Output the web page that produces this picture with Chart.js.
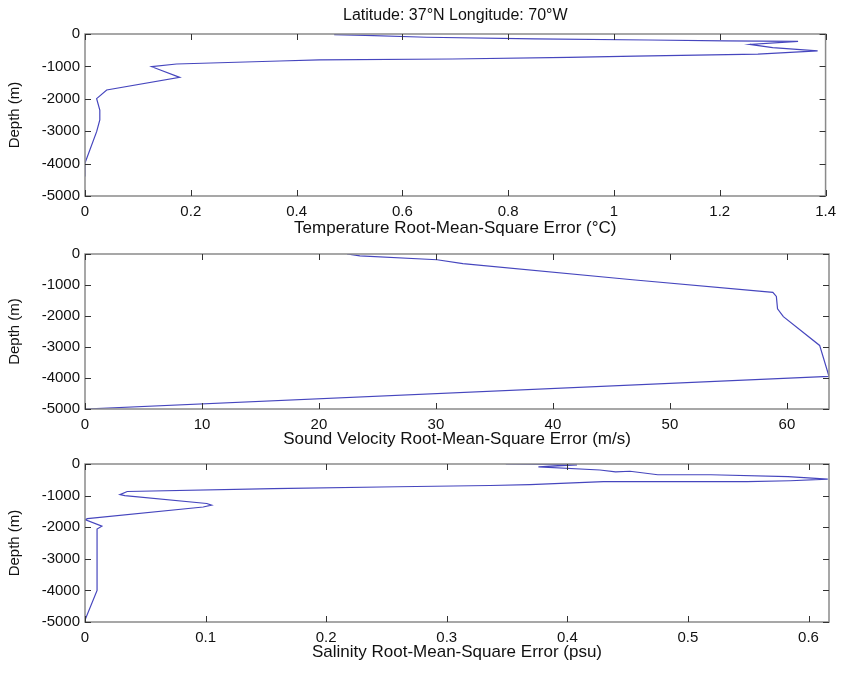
<!DOCTYPE html>
<html>
<head>
<meta charset="utf-8">
<script src="https://cdn.jsdelivr.net/npm/chart.js@4/dist/chart.umd.min.js"></script>
<style>
  body { margin: 0; background: #fff; }
  .panel { position: absolute; left: 0; }
</style>
</head>
<body>
<div class="panel" style="top:0px"><canvas id="tempChart" width="843" height="240"></canvas></div>
<div class="panel" style="top:240px"><canvas id="soundChart" width="843" height="210"></canvas></div>
<div class="panel" style="top:450px"><canvas id="salChart" width="843" height="223"></canvas></div>
<script>
// temperature RMS error (deg C) vs depth (m)
const tempRms = [0.471, 0.53, 0.646, 0.85, 1.065, 1.21, 1.348, 1.257, 1.30, 1.385, 1.272, 1.04, 0.914, 0.694, 0.443, 0.368, 0.173, 0.126, 0.179, 0.041, 0.022, 0.028, 0.028, 0.022, 0.0, 0.0];
const tempDepth = [-20, -40, -100, -150, -185, -210, -230, -320, -420, -520, -620, -680, -720, -772, -800, -833, -926, -1009, -1337, -1728, -1996, -2345, -2654, -3014, -3981, -4400];

// sound velocity RMS error (m/s) vs depth (m)
const soundRms = [22.4, 23.5, 30.1, 32.3, 46.8, 58.8, 59.1, 59.2, 59.7, 62.8, 63.6, 0];
const soundDepth = [0, -60, -186, -310, -830, -1240, -1370, -1770, -2020, -2950, -3950, -5000];

// salinity RMS error (psu) vs depth (m)
const salRms = [0.349, 0.408, 0.376, 0.427, 0.44, 0.452, 0.475, 0.519, 0.583, 0.616, 0.585, 0.549, 0.43, 0.369, 0.336, 0.259, 0.156, 0.035, 0.029, 0.033, 0.101, 0.105, 0.098, 0.002, 0.0, 0.014, 0.01, 0.01, 0.0];
const salDepth = [0, -30, -90, -190, -250, -230, -340, -340, -400, -480, -530, -560, -560, -650, -680, -720, -780, -870, -970, -1000, -1250, -1300, -1360, -1728, -1760, -1969, -2060, -4000, -4940];

const depthTicks = [0, -1000, -2000, -3000, -4000, -5000];
const tempTicks = [0, 0.2, 0.4, 0.6, 0.8, 1, 1.2, 1.4];
const soundTicks = [0, 10, 20, 30, 40, 50, 60];
const salTicks = [0, 0.1, 0.2, 0.3, 0.4, 0.5, 0.6];

const FONT = 'Liberation Sans, Arial, sans-serif';

// MATLAB-like box with inward ticks
const boxTicks = {
  id: 'boxTicks',
  afterDatasetsDraw(chart) {
    const { ctx, chartArea: a, scales: { x, y } } = chart;
    ctx.save();
    ctx.strokeStyle = '#8a8a8a';
    ctx.lineWidth = 1.5;
    ctx.strokeRect(a.left, a.top, a.right - a.left, a.bottom - a.top);
    ctx.strokeStyle = '#333';
    ctx.lineWidth = 1;
    ctx.beginPath();
    x.ticks.forEach(t => {
      const px = Math.round(x.getPixelForValue(t.value)) + 0.5;
      ctx.moveTo(px, a.bottom); ctx.lineTo(px, a.bottom - 6);
      ctx.moveTo(px, a.top); ctx.lineTo(px, a.top + 6);
    });
    y.ticks.forEach(t => {
      const py = Math.round(y.getPixelForValue(t.value)) + 0.5;
      ctx.moveTo(a.left, py); ctx.lineTo(a.left + 6, py);
      ctx.moveTo(a.right, py); ctx.lineTo(a.right - 6, py);
    });
    ctx.stroke();
    ctx.restore();
  }
};

function makeChart(id, xs, ys, xMax, xTicks, xTitle, opts) {
  const points = xs.map((v, i) => ({ x: v, y: ys[i] }));
  return new Chart(document.getElementById(id), {
    type: 'scatter',
    data: {
      datasets: [{
        data: points,
        showLine: true,
        borderColor: 'rgb(70,70,190)',
        borderWidth: 1.2,
        pointRadius: 0,
        tension: 0,
        fill: false
      }]
    },
    options: {
      responsive: false,
      animation: false,
      devicePixelRatio: 1,
      layout: { padding: { top: opts.padTop, bottom: opts.padBottom, left: 0, right: 14 } },
      plugins: {
        legend: { display: false },
        tooltip: { enabled: false },
        title: {
          display: !!opts.title,
          text: opts.title,
          fullSize: false,
          color: '#111',
          font: { family: FONT, size: 16, weight: 'normal' },
          padding: { top: 6, bottom: 8.8 }
        }
      },
      scales: {
        x: {
          type: 'linear',
          min: 0,
          max: xMax,
          afterBuildTicks: s => { s.ticks = xTicks.map(v => ({ value: v })); },
          afterFit: s => { s.height = opts.xHeight; },
          grid: { display: false, drawTicks: false },
          border: { display: false },
          ticks: { color: '#111', padding: 7, maxRotation: 0, font: { family: FONT, size: 15 }, callback: v => String(v) },
          title: { display: true, text: xTitle, color: '#111', font: { family: FONT, size: 17 }, padding: { top: 0, bottom: opts.titlePad } }
        },
        y: {
          type: 'linear',
          min: -5000,
          max: 0,
          afterBuildTicks: s => { s.ticks = depthTicks.map(v => ({ value: v })); },
          afterFit: s => { s.width = 85; },
          grid: { display: false, drawTicks: false },
          border: { display: false },
          ticks: { color: '#111', padding: 5, font: { family: FONT, size: 15 }, callback: v => String(v) },
          title: { display: true, text: 'Depth (m)', color: '#111', font: { family: FONT, size: 15 }, padding: { top: 6, bottom: 0 } }
        }
      }
    },
    plugins: [boxTicks]
  });
}

makeChart('tempChart', tempRms, tempDepth, 1.4, tempTicks,
  'Temperature Root-Mean-Square Error (°C)',
  { title: 'Latitude: 37°N Longitude: 70°W', padTop: 0, padBottom: 0, xHeight: 44, titlePad: 1.8 });

makeChart('soundChart', soundRms, soundDepth, 63.6, soundTicks,
  'Sound Velocity Root-Mean-Square Error (m/s)',
  { title: '', padTop: 8, padBottom: 0, xHeight: 41, titlePad: 0 });

makeChart('salChart', salRms, salDepth, 0.617, salTicks,
  'Salinity Root-Mean-Square Error (psu)',
  { title: '', padTop: 12, padBottom: 10, xHeight: 41, titlePad: 0 });
</script>
</body>
</html>
